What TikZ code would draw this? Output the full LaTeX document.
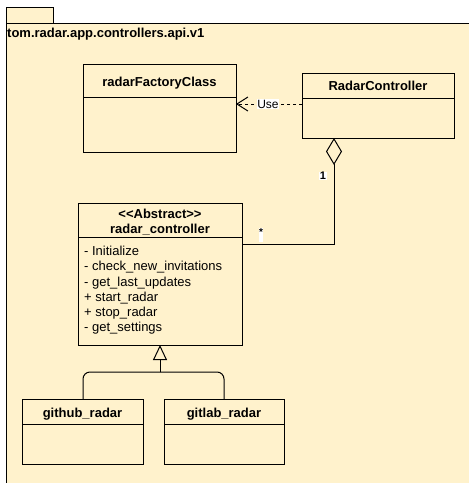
\documentclass[tikz,border=0pt]{standalone}
\usepackage{fontspec}
\setmainfont{Liberation Sans}
\usetikzlibrary{arrows.meta}
\definecolor{pkgfill}{HTML}{FFF2CC}
\tikzset{
  classbox/.style={draw=black, line width=1pt, inner sep=0pt, outer sep=0pt, anchor=north west},
  title/.style={font=\fontsize{13}{15}\selectfont\bfseries, inner sep=0pt, anchor=base},
  member/.style={font=\fontsize{13}{15}\selectfont, inner sep=0pt, anchor=base west},
  lbl/.style={font=\fontsize{12}{14}\selectfont, fill=white, inner sep=0.5pt},
  conn/.style={line width=1pt, black},
}
\begin{document}
\begin{tikzpicture}[x=1pt,y=-1pt]
\useasboundingbox (0,0) rectangle (469,483);
% package
\draw[line width=1pt, fill=pkgfill] (6,7) rectangle (53,23);
\draw[line width=1pt, fill=pkgfill] (6,23) rectangle (490,500);
\node[member, font=\fontsize{13}{15}\selectfont\bfseries] (pkg) at (7,37.5) {tom.radar.app.controllers.api.v1};

% radarFactoryClass
\node[classbox, minimum width=153pt, minimum height=88pt] (RF) at (83,64) {};
\draw[line width=1pt] ([yshift=-33pt]RF.north west) -- ([yshift=-33pt]RF.north east);
\node[title] (RFt) at (159.5,86.5) {radarFactoryClass};

% RadarController
\node[classbox, minimum width=152pt, minimum height=65pt] (RC) at (302,73) {};
\draw[line width=1pt] ([yshift=-25pt]RC.north west) -- ([yshift=-25pt]RC.north east);
\node[title] (RCt) at (378,90.5) {RadarController};

% radar_controller
\node[classbox, minimum width=164pt, minimum height=142pt] (AB) at (78,203) {};
\draw[line width=1pt] ([yshift=-34pt]AB.north west) -- ([yshift=-34pt]AB.north east);
\node[title] (ABs) at (160,218.5) {<{}<Abstract>{}>};
\node[title] (ABt) at (160,233.5) {radar\_controller};
\node[member] (m1) at (84,255.8) {- Initialize};
\node[member] (m2) at (84,270.9) {- check\_new\_invitations};
\node[member] (m3) at (84,286) {- get\_last\_updates};
\node[member] (m4) at (84,301.1) {+ start\_radar};
\node[member] (m5) at (84,316.2) {+ stop\_radar};
\node[member] (m6) at (84,331.3) {- get\_settings};

% github_radar
\node[classbox, minimum width=121pt, minimum height=65pt] (GH) at (22,399) {};
\draw[line width=1pt] ([yshift=-25pt]GH.north west) -- ([yshift=-25pt]GH.north east);
\node[title] (GHt) at (82.5,417.5) {github\_radar};

% gitlab_radar
\node[classbox, minimum width=120pt, minimum height=65pt] (GL) at (164,399) {};
\draw[line width=1pt] ([yshift=-25pt]GL.north west) -- ([yshift=-25pt]GL.north east);
\node[title] (GLt) at (224,417.5) {gitlab\_radar};

% dependency (Use)
\coordinate (useS) at (302,104);
\coordinate (useE) at (236,104);
\draw[conn, dash pattern=on 3pt off 3pt, -{Straight Barb[length=11pt,width=14pt,line width=1pt]}] (useS) -- (useE);
\node[lbl] (useL) at (268,104) {Use};

% aggregation
\coordinate (aggS) at (334,138);
\coordinate (aggE) at (242,244);
\draw[conn, {Diamond[open,length=27pt,width=16pt,line width=1pt,fill=pkgfill]}-] (aggS) |- (aggE);
\node[lbl, font=\fontsize{11}{13}\selectfont\bfseries] (one) at (323,176) {1};
\node[lbl, font=\fontsize{10}{12}\selectfont\bfseries, minimum height=13pt, text depth=6pt] (star) at (261,235) {*};

% generalization
\coordinate (genT) at (160,345);
\coordinate (genJ) at (160,372);
\draw[conn, rounded corners=7pt] (GH.north -| 83,399) -- (83,372) -- (genJ);
\draw[conn, rounded corners=7pt] (GL.north -| 224,399) -- (224,372) -- (genJ);
\draw[conn, -{Triangle[open,length=15pt,width=14pt,line width=1pt,fill=pkgfill]}] (genJ) -- (genT);
\end{tikzpicture}
\end{document}
